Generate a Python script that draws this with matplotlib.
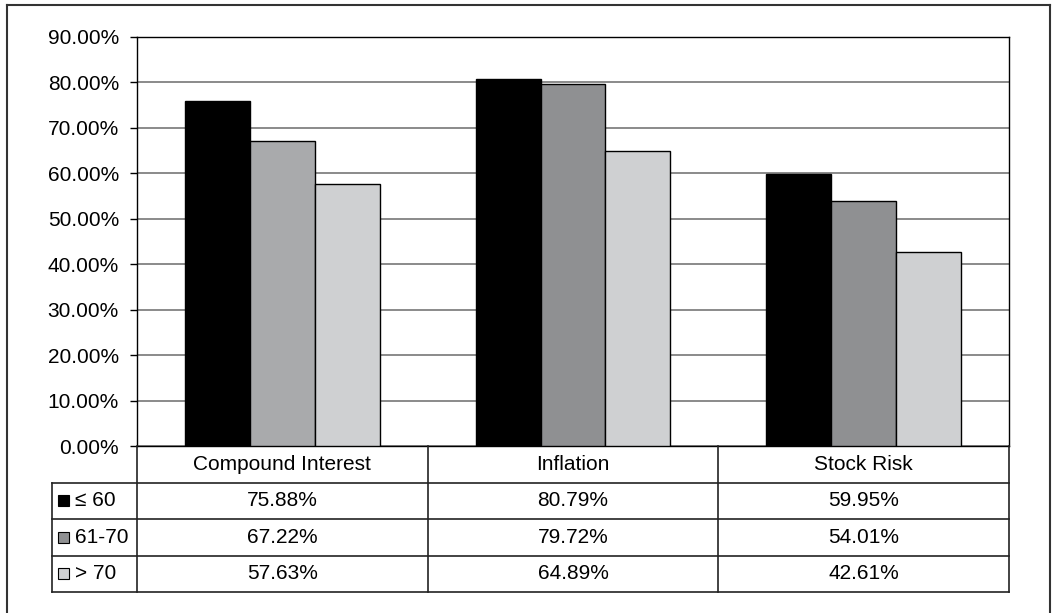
import matplotlib
matplotlib.use('Agg')
import matplotlib.pyplot as plt
from matplotlib.lines import Line2D
from matplotlib.patches import Rectangle
import numpy as np

plt.rcParams['font.family'] = ['Liberation Sans', 'DejaVu Sans']

categories = ['Compound Interest', 'Inflation', 'Stock Risk']
series_names = ['\u2264 60', '61-70', '> 70']
le60 = [75.88, 80.79, 59.95]
age61_70 = [67.22, 79.72, 54.01]
gt70 = [57.63, 64.89, 42.61]
values = [le60, age61_70, gt70]

# first group's middle bar is printed a bit lighter in the original
bar_colors = [['#000000'] * 3,
              ['#a9aaac', '#8f9092', '#8f9092'],
              ['#cfd0d2'] * 3]
swatch_colors = ['#000000', '#8f9092', '#cfd0d2']

W, H = 1052, 613
fig = plt.figure(figsize=(W / 100, H / 100), dpi=100)

# outer chart frame
fx = lambda p: p / W
fy = lambda p: 1 - p / H
for xs, ys in [([7, 1050], [5, 5]), ([7, 7], [5, 620]), ([1050, 1050], [5, 620])]:
    fig.add_artist(Line2D([fx(v) for v in xs], [fy(v) for v in ys],
                          color='#333333', lw=1.5))

x0, x1, ytop, ybot = 137, 1009, 37, 446
ax = fig.add_axes([fx(x0), fy(ybot), (x1 - x0) / W, (ybot - ytop) / H])

x = np.arange(len(categories))
bw = 0.2236
for i, vals in enumerate(values):
    ax.bar(x + (i - 1) * bw, vals, width=bw, color=bar_colors[i],
           edgecolor='black', linewidth=1, zorder=3)

ax.set_xlim(-0.5, 2.5)
ax.set_ylim(0, 90)
ax.set_yticks(np.arange(0, 91, 10))
ax.set_yticklabels(['%.2f%%' % v for v in np.arange(0, 91, 10)])
ax.yaxis.grid(True, color='#777777', lw=1.2, zorder=0)
ax.set_xticks([])
ax.tick_params(axis='y', direction='out', length=5, width=1, pad=8,
               labelsize=15, colors='black')
for s in ax.spines.values():
    s.set_color('black')
    s.set_linewidth(1)

# data table underneath
tb = 592
tax = fig.add_axes([fx(x0), fy(tb), (x1 - x0) / W, (tb - ybot) / H])
tax.set_xlim(-0.5, 2.5)
tax.set_ylim(4, 0)
tax.axis('off')
xl = -0.5 - (137 - 52) / ((x1 - x0) / 3)
lc = '#222222'
kw = dict(color=lc, lw=1.2, clip_on=False)
# horizontal lines
for r in [1, 2, 3, 4]:
    tax.plot([xl, 2.5], [r, r], **kw)
# vertical lines
tax.plot([xl, xl], [1, 4], **kw)
for c in [-0.5, 0.5, 1.5, 2.5]:
    tax.plot([c, c], [0, 4], **kw)

for j, cat in enumerate(categories):
    tax.text(j, 0.5, cat, ha='center', va='center', fontsize=15)
    for i, vals in enumerate(values):
        tax.text(j, i + 1.5, '%.2f%%' % vals[j], ha='center', va='center',
                 fontsize=15)

sw = 11 / ((x1 - x0) / 3)
for i, name in enumerate(series_names):
    tax.add_patch(Rectangle((xl + 0.02, i + 1.5 - 0.15), sw, 0.30,
                            facecolor=swatch_colors[i], edgecolor='black',
                            lw=0.8, clip_on=False))
    tax.text(xl + 0.02 + sw + 0.022, i + 1.5, name, ha='left', va='center',
             fontsize=15)

fig.savefig('out.png', dpi=100, facecolor='white')
